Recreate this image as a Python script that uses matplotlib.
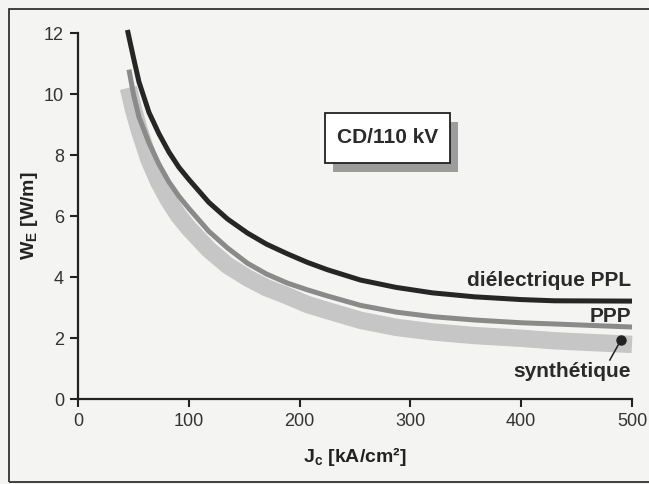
import matplotlib
matplotlib.use("Agg")
import matplotlib.pyplot as plt
from matplotlib.patches import Rectangle

plt.rcParams['font.family'] = ['Liberation Sans', 'DejaVu Sans']
plt.rcParams['mathtext.fontset'] = 'custom'
plt.rcParams['mathtext.rm'] = 'Liberation Sans:bold'
plt.rcParams['mathtext.bf'] = 'Liberation Sans:bold'

# -- values --
j_ppl = [44.6, 50, 55, 64, 73, 82, 91, 100, 118, 135, 153, 170, 189, 207, 225, 255, 287, 320, 358, 400, 430, 500]
w_ppl = [12.1, 11.2, 10.4, 9.4, 8.7, 8.1, 7.6, 7.2, 6.45, 5.9, 5.44, 5.08, 4.76, 4.48, 4.24, 3.9, 3.66, 3.48, 3.35, 3.26, 3.22, 3.21]

j_ppp = [46, 50, 55, 64, 73, 82, 91, 100, 118, 135, 153, 170, 189, 207, 225, 255, 287, 320, 358, 400, 430, 500]
w_ppp = [10.8, 10.0, 9.25, 8.4, 7.7, 7.12, 6.65, 6.25, 5.5, 4.95, 4.45, 4.1, 3.8, 3.58, 3.38, 3.07, 2.85, 2.7, 2.59, 2.5, 2.46, 2.36]

j_syn = [45.5, 50, 55, 64, 73, 82, 91, 100, 118, 135, 153, 170, 189, 207, 225, 255, 287, 320, 358, 400, 430, 500]
w_syn = [10.2, 9.5, 8.85, 7.85, 7.1, 6.5, 6.0, 5.6, 4.9, 4.38, 3.97, 3.65, 3.38, 3.1, 2.9, 2.58, 2.35, 2.2, 2.08, 1.99, 1.91, 1.79]

x_ticks = [0, 100, 200, 300, 400, 500]
y_ticks = [0, 2, 4, 6, 8, 10, 12]

bg = '#f4f4f2'
fig = plt.figure(figsize=(6.49, 4.84), dpi=100, facecolor=bg)
ax = fig.add_axes([0.1202, 0.1756, 0.8536, 0.7562])
ax.set_facecolor('none')

# curves
ax.plot(j_syn, w_syn, color='#c6c6c6', lw=12.5, solid_capstyle='butt', clip_on=False, zorder=2)
ax.plot(j_ppp, w_ppp, color='#8a8a8a', lw=3.6, solid_capstyle='butt', clip_on=False, zorder=3)
ax.plot(j_ppl, w_ppl, color='#262626', lw=3.6, solid_capstyle='butt', clip_on=False, zorder=4)

ax.set_xlim(0, 500)
ax.set_ylim(0, 12)
ax.set_xticks(x_ticks)
ax.set_yticks(y_ticks)
ax.tick_params(direction='out', length=6, width=1.5, labelsize=13, color='#222222', labelcolor='#333333', pad=4)
for s in ['top', 'right']:
    ax.spines[s].set_visible(False)
for s in ['left', 'bottom']:
    ax.spines[s].set_linewidth(1.6)
    ax.spines[s].set_color('#222222')

ax.set_xlabel('J$_\\mathbf{c}$ [kA/cm²]', fontsize=14, fontweight='bold', color='#222222', labelpad=11)
ax.set_ylabel('W$_\\mathbf{E}$ [W/m]', fontsize=14, fontweight='bold', color='#222222', labelpad=3)

# curve labels
ax.text(499, 3.87, 'diélectrique PPL', ha='right', va='center', fontsize=15, fontweight='bold', color='#2a2a2a')
ax.text(499, 2.69, 'PPP', ha='right', va='center', fontsize=15, fontweight='bold', color='#2a2a2a')
ax.text(499, 0.9, 'synthétique', ha='right', va='center', fontsize=15, fontweight='bold', color='#2a2a2a')
ax.plot([490, 480], [1.93, 1.28], color='#222222', lw=1.1, zorder=5)
ax.plot([490], [1.93], 'o', color='#222222', ms=6.5, zorder=6)

# boxed title with drop shadow
ax.add_patch(Rectangle((230, 7.45), 113, 1.64, facecolor='#9c9c9c', edgecolor='none', zorder=5))
ax.add_patch(Rectangle((223, 7.74), 113, 1.64, facecolor='white', edgecolor='#222222', lw=1.3, zorder=6))
ax.text(279.5, 8.56, 'CD/110 kV', ha='center', va='center', fontsize=15, fontweight='bold', color='#2a2a2a', zorder=7)

# frame around the figure (right edge runs off the scan)
fig.patches.append(Rectangle((0.0139, 0.004), 1.0, 0.977, transform=fig.transFigure,
                             facecolor='none', edgecolor='#333333', lw=1.3))

fig.savefig('out.png', dpi=100, facecolor=bg)
